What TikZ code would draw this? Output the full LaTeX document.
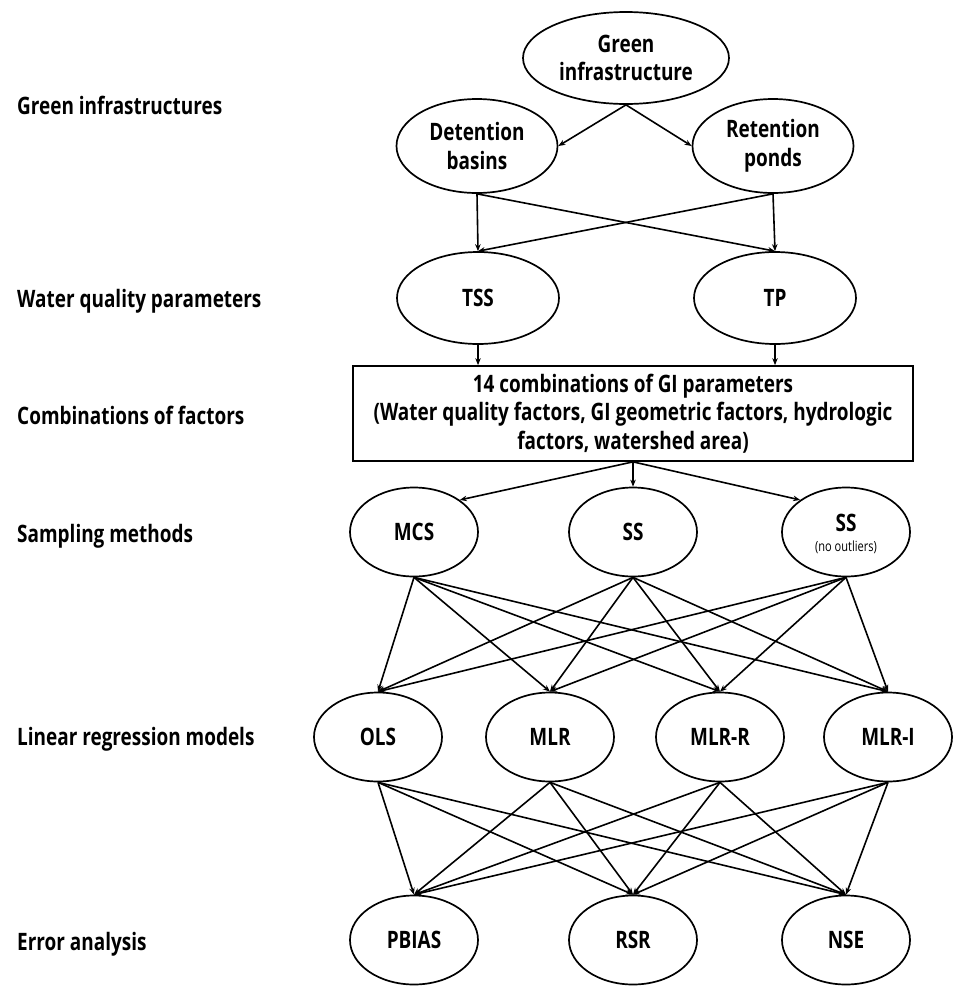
\documentclass[tikz,border=0pt]{standalone}
\usepackage{fontspec}
\setmainfont{Open Sans}[FakeStretch=0.79]
\usetikzlibrary{shapes.geometric,arrows.meta}
\begin{document}
\begin{tikzpicture}[x=1pt,y=-1pt,
  txt/.style={font=\bfseries\fontsize{24}{28.5}\selectfont},
  ell/.style={draw, ellipse, line width=1.7pt, inner sep=0pt, minimum width=128pt, minimum height=89pt, align=center, txt},
  boxnode/.style={draw, rectangle, line width=1.7pt, inner sep=0pt, minimum width=560pt, minimum height=95pt, align=center, txt},
  lbl/.style={anchor=base west, inner sep=0pt, txt},
  arr/.style={-{Stealth[length=7pt,width=5.5pt]}, line width=1.6pt},
]
\useasboundingbox (0,0) rectangle (953,986);

% row labels
\node[lbl] (l1) at (17,114) {Green infrastructures};
\node[lbl] (l2) at (17,307) {Water quality parameters};
\node[lbl] (l3) at (17,424) {Combinations of factors};
\node[lbl] (l4) at (17,542) {Sampling methods};
\node[lbl] (l5) at (17,745) {Linear regression models};
\node[lbl] (l6) at (17,950) {Error analysis};

% nodes
\node[ell, minimum width=206pt, minimum height=92pt] (gi) at (626,58) {Green\\infrastructure};
\node[ell, minimum width=161pt, minimum height=94pt] (det) at (477,146) {Detention\\basins};
\node[ell, minimum width=161pt, minimum height=94pt] (ret) at (773,146) {Retention\\ponds};
\node[ell, minimum width=162pt, minimum height=92pt] (tss) at (478,298) {TSS};
\node[ell, minimum width=162pt, minimum height=92pt] (tp) at (775,298) {TP};

\node[boxnode] (box) at (633,413.5) {14 combinations of GI parameters\\(Water quality factors, GI geometric factors, hydrologic\\factors, watershed area)};

\node[ell] (mcs) at (414,532) {MCS};
\node[ell] (ss) at (633,532) {SS};
\node[ell] (ssn) at (846,532) {\rule{0pt}{22pt}SS\\[-8.5pt]{\mdseries\fontsize{14}{16}\selectfont (no outliers)}};

\node[ell] (ols) at (378,737) {OLS};
\node[ell] (mlr) at (550,737) {MLR};
\node[ell] (mlrr) at (720,737) {MLR-R};
\node[ell] (mlri) at (888,737) {MLR-I};

\node[ell] (pbias) at (414,940) {PBIAS};
\node[ell] (rsr) at (633,940) {RSR};
\node[ell] (nse) at (846,940) {NSE};

% connectors
\draw[arr] (gi.south) -- (det.east);
\draw[arr] (gi.south) -- (ret.west);
\foreach \s in {det,ret} \foreach \t in {tss,tp} \draw[arr] (\s.south) -- (\t.north);
\draw[arr] (tss.south) -- (tss.south |- box.north);
\draw[arr] (tp.south) -- (tp.south |- box.north);
\draw[arr] (box.south) -- (mcs.north east);
\draw[arr] (box.south) -- (ss.north);
\draw[arr] (box.south) -- (ssn.north west);
\foreach \s in {mcs,ss,ssn} \foreach \t in {ols,mlr,mlrr,mlri} \draw[arr] (\s.south) -- (\t.north);
\foreach \s in {ols,mlr,mlrr,mlri} \foreach \t in {pbias,rsr,nse} \draw[arr] (\s.south) -- (\t.north);
\end{tikzpicture}
\end{document}
